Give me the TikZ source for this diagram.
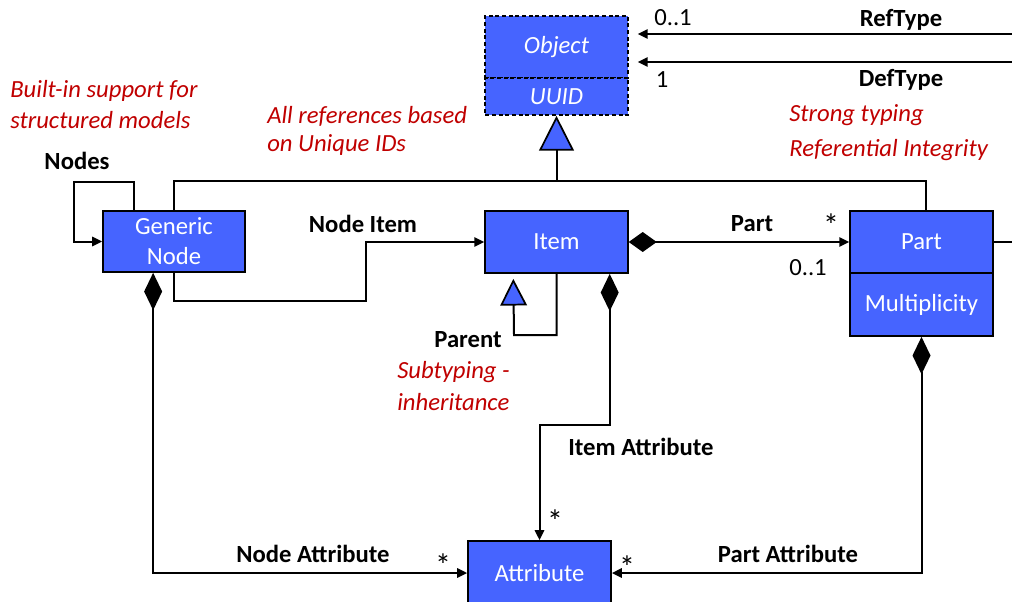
\documentclass[tikz,border=0pt]{standalone}
\usepackage{fontspec}
\setmainfont{Carlito}
\usetikzlibrary{arrows.meta,calc}
\definecolor{clsblue}{RGB}{70,100,255}
\definecolor{notered}{RGB}{192,0,0}

\begin{document}
\begin{tikzpicture}[x=0.75pt,y=-0.75pt,
  txt/.style={font=\fontsize{18.5}{22.5}\selectfont},
  cls/.style={txt, draw=black, line width=1.3pt, fill=clsblue, text=white,
    inner sep=0pt, align=center, minimum width=107pt},
  abscls/.style={cls, dash pattern=on 3pt off 2pt},
  lbl/.style={txt, font=\fontsize{18.5}{22.5}\selectfont\bfseries, inner sep=0pt},
  mul/.style={txt, inner sep=0pt},
  star/.style={font=\fontsize{24}{24}\selectfont, inner sep=0pt},
  note/.style={font=\fontsize{18.5}{22.5}\selectfont\itshape, text=notered,
    inner sep=0pt, anchor=west},
  wire/.style={draw=black, line width=1.5pt},
  conn/.style={wire, -{Triangle[length=7.5pt,width=7pt]}},
  gen/.style={wire, -{Triangle[length=#1,width=#1,fill=clsblue,line width=1.3pt]}},
  comp/.style={wire, arrows={Diamond[length=28pt,width=13.5pt]-Triangle[length=7.5pt,width=7pt]}},
  hcomp/.style={wire, arrows={Diamond[length=21pt,width=15pt]-Triangle[length=7.5pt,width=7pt]}},
]
\useasboundingbox (0,0) rectangle (1012,602);

% classes
\node[abscls, minimum height=46.5pt] (obj) at (556.5,47) {\itshape Object};
\node[abscls, minimum height=27.75pt] (uuid) at (556.5,96.5) {\itshape UUID};
\node[cls, minimum width=106.5pt, minimum height=45.75pt] (gn) at (174,241.5) {Generic\\Node};
\node[cls, minimum height=46.5pt] (item) at (556.5,242) {Item};
\node[cls, minimum height=46.5pt] (part) at (921.5,242) {Part};
\node[cls, minimum height=47.25pt] (mult) at (921.5,304.5) {Multiplicity};
\node[cls, minimum width=107.25pt, minimum height=48pt] (attr) at (539.5,573) {Attribute};

% typed references entering from the right
\coordinate (refIn) at (1012,34);
\coordinate (defIn) at (1012,62);
\draw[conn, shorten >=6.75pt] (refIn) -- (obj.east |- refIn);
\draw[conn, shorten >=6.75pt] (defIn) -- (obj.east |- defIn);
\node[mul] (mRef) at (673,18) {0..1};
\node[lbl] (lRef) at (901,20) {RefType};
\node[mul] (mDef) at (662,80) {1};
\node[lbl] (lDef) at (901,80) {DefType};

% generalisation to Object
\coordinate (hub) at (556.5,181);
\draw[wire] (gn.north) |- (hub) -| ($(part.north)+(4.5,0)$);
\draw[gen=26pt] (hub) -- (uuid.south);

% Nodes self association
\draw[conn] ($(gn.north west)+(32,0)$) |- (74,182) |- (gn.west);
\node[lbl] (lNodes) at (77,161) {Nodes};

% Node Item
\draw[conn] (gn.south) |- (366,301) |- (item.west);
\node[lbl] (lNodeItem) at (363,224) {Node Item};

% Part composition
\draw[hcomp] (item.east) -- (part.west);
\node[lbl] (lPart) at (752,224) {Part};
\node[star] (mPartA) at (831,225) {*};
\node[mul] (mPartB) at (808,268) {0..1};
\coordinate (partOut) at (1012,242);
\draw[wire] (part.east) -- (partOut);

% Parent subtyping
\draw[gen=20pt] (item.south) |- (514,335) -- ($(item.south west)+(29,5)$);
\node[lbl] (lParent) at (468,340) {Parent};

% attribute compositions
\draw[comp] ($(item.south east)+(-19,0)$) |- (539.5,425) -- (attr.north);
\node[lbl] (lItemAttr) at (641,447) {Item Attribute};
\node[star] (mItemAttr) at (555,521) {*};

\draw[comp] ($(gn.south west)+(51,0)$) |- (attr.west);
\node[lbl] (lNodeAttr) at (313,554) {Node Attribute};
\node[star] (mNodeAttr) at (443,565) {*};

\draw[comp] (mult.south) |- (attr.east);
\node[lbl] (lPartAttr) at (788,554) {Part Attribute};
\node[star] (mPartAttr) at (627,567) {*};

% notes
\node[note] (n1) at (10,91) {Built-in support for};
\node[note] (n2) at (10,120) {structured models};
\node[note] (n3) at (267,116) {All references based};
\node[note] (n4) at (267,145) {on Unique IDs};
\node[note] (n5) at (789,115) {Strong typing};
\node[note] (n6) at (789,150) {Referential Integrity};
\node[note] (n7) at (397,372) {Subtyping -};
\node[note] (n8) at (397,402) {inheritance};
\end{tikzpicture}
\end{document}
